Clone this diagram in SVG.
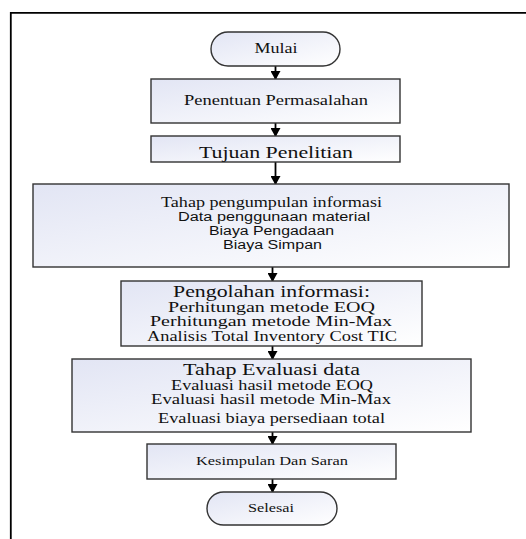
<svg xmlns="http://www.w3.org/2000/svg" width="526" height="539" viewBox="0 0 526 539">
<style>
.box{fill:url(#g);stroke:#333;stroke-width:1.4}
.s{font-family:"Liberation Serif","Times New Roman",serif;fill:#111;text-anchor:middle}
.a{font-family:"Liberation Sans",Arial,sans-serif;fill:#111;text-anchor:middle}
.c line{stroke:#000;stroke-width:1.8}
</style>
<defs>
<linearGradient id="g" x1="0" y1="0" x2="1" y2="1">
<stop offset="0" stop-color="#e2e5f4"/>
<stop offset="1" stop-color="#ffffff"/>
</linearGradient>
<marker id="ar" markerWidth="9" markerHeight="10" refX="8" refY="5" orient="auto" markerUnits="userSpaceOnUse">
<path d="M0,0 L9,5 L0,10 Z" fill="#000"/>
</marker>
</defs>
<rect width="526" height="539" fill="#fff"/>
<path d="M10.8,539 V12.8 H526" fill="none" stroke="#000" stroke-width="1.8"/>
<g class="c">
<line x1="275.5" y1="66" x2="275.5" y2="79" marker-end="url(#ar)"/>
<line x1="275.5" y1="123" x2="275.5" y2="136" marker-end="url(#ar)"/>
<line x1="275.5" y1="162" x2="275.5" y2="184" marker-end="url(#ar)"/>
<line x1="272.5" y1="267" x2="272.5" y2="281" marker-end="url(#ar)"/>
<line x1="272.5" y1="346" x2="272.5" y2="359" marker-end="url(#ar)"/>
<line x1="272.5" y1="432" x2="272.5" y2="444" marker-end="url(#ar)"/>
<line x1="272.5" y1="479" x2="272.5" y2="492" marker-end="url(#ar)"/>
</g>
<g id="mulai">
<rect class="box" x="211" y="32" width="129" height="34" rx="17"/>
<text class="s" x="276" y="53" font-size="14" textLength="43" lengthAdjust="spacingAndGlyphs">Mulai</text>
</g>
<g id="penentuan">
<rect class="box" x="151" y="79" width="249" height="44"/>
<text class="s" x="276" y="105" font-size="14" textLength="184" lengthAdjust="spacingAndGlyphs">Penentuan Permasalahan</text>
</g>
<g id="tujuan">
<rect class="box" x="151" y="136" width="249" height="26"/>
<text class="s" x="276" y="158" font-size="16" textLength="154" lengthAdjust="spacingAndGlyphs">Tujuan Penelitian</text>
</g>
<g id="pengumpulan">
<rect class="box" x="33" y="184" width="476" height="83"/>
<text class="s" x="271.5" y="207" font-size="14" textLength="221" lengthAdjust="spacingAndGlyphs">Tahap pengumpulan informasi</text>
<text class="a" x="274" y="221" font-size="12.5" textLength="192" lengthAdjust="spacingAndGlyphs">Data penggunaan material</text>
<text class="a" x="271.5" y="235" font-size="12.5" textLength="125" lengthAdjust="spacingAndGlyphs">Biaya Pengadaan</text>
<text class="a" x="272.5" y="249" font-size="12.5" textLength="99" lengthAdjust="spacingAndGlyphs">Biaya Simpan</text>
</g>
<g id="pengolahan">
<rect class="box" x="121" y="281" width="301" height="65"/>
<text class="s" x="271.5" y="297" font-size="16.5" textLength="197" lengthAdjust="spacingAndGlyphs">Pengolahan informasi:</text>
<text class="s" x="271.5" y="312" font-size="14" textLength="207" lengthAdjust="spacingAndGlyphs">Perhitungan metode EOQ</text>
<text class="s" x="271" y="326" font-size="14" textLength="242" lengthAdjust="spacingAndGlyphs">Perhitungan metode Min-Max</text>
<text class="s" x="272" y="341" font-size="14" textLength="250" lengthAdjust="spacingAndGlyphs">Analisis Total Inventory Cost TIC</text>
</g>
<g id="evaluasi">
<rect class="box" x="72" y="359" width="399" height="73"/>
<text class="s" x="271.5" y="375" font-size="16.5" textLength="177" lengthAdjust="spacingAndGlyphs">Tahap Evaluasi data</text>
<text class="s" x="272" y="390" font-size="14" textLength="202" lengthAdjust="spacingAndGlyphs">Evaluasi hasil metode EOQ</text>
<text class="s" x="271" y="404" font-size="14" textLength="240" lengthAdjust="spacingAndGlyphs">Evaluasi hasil metode Min-Max</text>
<text class="s" x="271.5" y="423" font-size="14" textLength="227" lengthAdjust="spacingAndGlyphs">Evaluasi biaya persediaan total</text>
</g>
<g id="kesimpulan">
<rect class="box" x="147" y="444" width="249" height="35"/>
<text class="s" x="272" y="465" font-size="13" textLength="152" lengthAdjust="spacingAndGlyphs">Kesimpulan Dan Saran</text>
</g>
<g id="selesai">
<rect class="box" x="207" y="492" width="130" height="33" rx="16.5"/>
<text class="s" x="271" y="512" font-size="13" textLength="46" lengthAdjust="spacingAndGlyphs">Selesai</text>
</g>
</svg>
